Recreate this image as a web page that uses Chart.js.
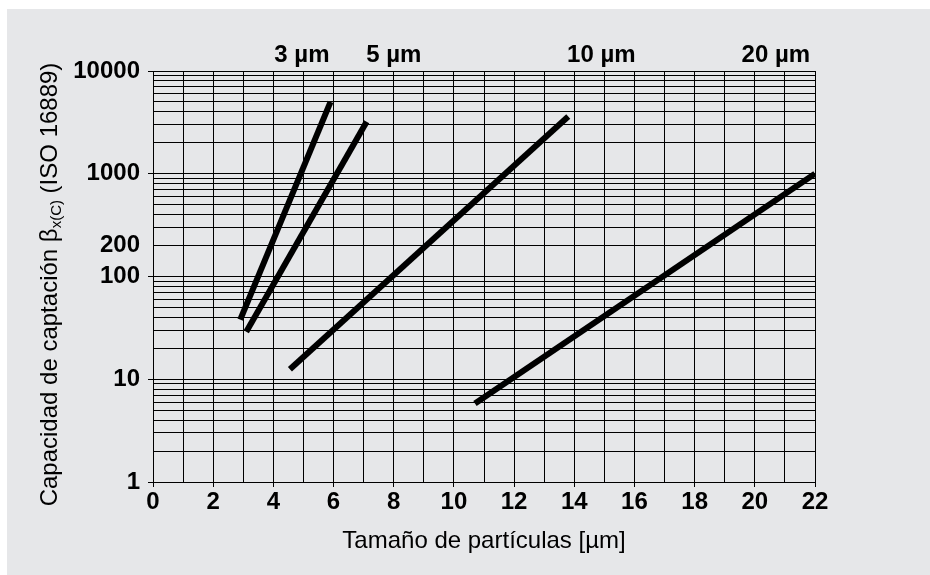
<!DOCTYPE html>
<html>
<head>
<meta charset="utf-8">
<script src="https://cdn.jsdelivr.net/npm/chart.js@4"></script>
<style>
  html, body { margin: 0; padding: 0; background: #fff; }
  #wrap { position: absolute; left: 7px; top: 9px; width: 923px; height: 566px; background: #e6e7e9; }
</style>
</head>
<body>
<div id="wrap"><canvas id="chart"></canvas></div>
<script>
// particle size / capture capacity lines
const line3x = [2.9, 5.9];
const line3y = [38, 5000];
const line5x = [3.1, 7.1];
const line5y = [29, 3200];
const line10x = [4.55, 13.8];
const line10y = [12.5, 3600];
const line20x = [10.7, 22];
const line20y = [5.8, 1000];

const lineLabels = ["3 µm", "5 µm", "10 µm", "20 µm"];
const lineLabelX = [4.95, 8.0, 14.9, 20.7];

const yTickLabels = [1, 10, 100, 200, 1000, 10000];
const yTickMarks = [1, 10, 100, 1000, 10000];
const yGridValues = [];
for (let d = 1; d < 10000; d *= 10) {
  for (let m = 1; m < 10; m++) yGridValues.push(m * d);
}
yGridValues.push(10000);

const font = "'Liberation Sans', Arial, sans-serif";

function pts(xs, ys) {
  return xs.map((x, i) => ({ x: x, y: ys[i] }));
}

function lineSet(xs, ys) {
  return {
    data: pts(xs, ys),
    borderColor: '#000',
    borderWidth: 6,
    borderCapStyle: 'butt',
    pointRadius: 0,
    showLine: true,
    fill: false
  };
}

const labelsPlugin = {
  id: 'extraText',
  afterDraw(chart) {
    const c = chart.ctx;
    const xs = chart.scales.x;
    const area = chart.chartArea;
    c.save();
    c.fillStyle = '#000';
    c.font = "bold 24px " + font;
    c.textAlign = 'center';
    c.textBaseline = 'middle';
    lineLabels.forEach((t, i) => {
      c.fillText(t, xs.getPixelForValue(lineLabelX[i]), area.top - 16);
    });

    // y title with subscript
    c.translate(41, (area.top + area.bottom) / 2 + 8);
    c.rotate(-Math.PI / 2);
    const a = "Capacidad de captación β";
    const sub = "x(C)";
    const b = " (ISO 16889)";
    c.font = "24px " + font;
    const wa = c.measureText(a).width;
    const wb = c.measureText(b).width;
    c.font = "15px " + font;
    const ws = c.measureText(sub).width;
    let x0 = -(wa + ws + wb) / 2;
    c.textAlign = 'left';
    c.textBaseline = 'alphabetic';
    c.font = "24px " + font;
    c.fillText(a, x0, 9);
    c.font = "15px " + font;
    c.fillText(sub, x0 + wa, 13);
    c.font = "24px " + font;
    c.fillText(b, x0 + wa + ws, 9);
    c.restore();
  }
};

const chart = new Chart(document.getElementById('chart'), {
  type: 'scatter',
  data: {
    datasets: [
      lineSet(line3x, line3y),
      lineSet(line5x, line5y),
      lineSet(line10x, line10y),
      lineSet(line20x, line20y)
    ]
  },
  options: {
    responsive: true,
    maintainAspectRatio: false,
    animation: false,
    layout: { padding: { top: 62, right: 115, left: 0, bottom: 0 } },
    plugins: {
      legend: { display: false },
      tooltip: { enabled: false }
    },
    scales: {
      x: {
        type: 'linear',
        min: 0,
        max: 22,
        afterFit: s => { s.height = 93; },
        border: { color: '#000', width: 1 },
        grid: {
          color: '#000',
          lineWidth: 1,
          tickLength: 5,
          tickColor: ctx => (ctx.tick && ctx.tick.value % 2 === 0) ? '#000' : 'rgba(0,0,0,0)'
        },
        ticks: {
          stepSize: 1,
          autoSkip: false,
          maxRotation: 0,
          padding: 1,
          color: '#000',
          font: { family: font, size: 24, weight: 'bold' },
          callback: v => (v % 2 === 0 ? String(v) : '')
        },
        title: {
          display: true,
          text: 'Tamaño de partículas [µm]',
          color: '#000',
          font: { family: font, size: 24 },
          padding: { top: 0, bottom: 19 }
        }
      },
      y: {
        type: 'logarithmic',
        min: 1,
        max: 10000,
        afterFit: s => { s.width = 146; },
        afterBuildTicks: s => { s.ticks = yGridValues.map(v => ({ value: v })); },
        border: { color: '#000', width: 1 },
        grid: {
          color: '#000',
          lineWidth: 1,
          tickLength: 5,
          tickColor: ctx => (ctx.tick && yTickMarks.includes(ctx.tick.value)) ? '#000' : 'rgba(0,0,0,0)'
        },
        ticks: {
          autoSkip: false,
          padding: 8,
          color: '#000',
          font: { family: font, size: 24, weight: 'bold' },
          callback: v => (yTickLabels.includes(v) ? String(v) : '')
        }
      }
    }
  },
  plugins: [labelsPlugin]
});
</script>
</body>
</html>
